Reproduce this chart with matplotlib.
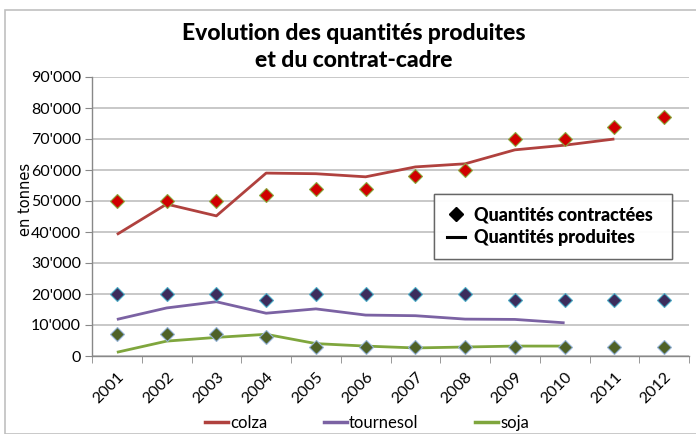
import matplotlib
matplotlib.use("Agg")
import matplotlib.pyplot as plt
from matplotlib.lines import Line2D
from matplotlib.ticker import FuncFormatter, MultipleLocator
from matplotlib.patches import Rectangle
import numpy as np

years = ["2001", "2002", "2003", "2004", "2005", "2006", "2007", "2008",
         "2009", "2010", "2011", "2012"]

colza_contract = [50000, 50000, 50000, 52000, 54000, 54000, 58000, 60000,
                  70000, 70000, 74000, 77000]
colza_prod = [39200, 49000, 45200, 59000, 58800, 57800, 61000, 62000,
              66500, 68000, 70000, None]

tourn_contract = [20000, 20000, 20000, 18000, 20000, 20000, 20000, 20000,
                  18000, 18000, 18000, 18000]
tourn_prod = [11800, 15500, 17500, 13800, 15200, 13200, 13000, 11900,
              11800, 10700, None, None]

soja_contract = [7000, 7000, 7000, 6000, 3000, 3000, 3000, 3000,
                 3000, 3000, 3000, 3000]
soja_prod = [1200, 4800, 6000, 7000, 4000, 3200, 2600, 2900,
             3200, 3200, None, None]

series_names = ["colza", "tournesol", "soja"]

plt.rcParams['font.family'] = ['Lato', 'DejaVu Sans']

fig = plt.figure(figsize=(6.96, 4.34), dpi=100)
# outer frame
fig.patches.append(Rectangle((5 / 696, 0), 1.2, 1 - 10 / 434, transform=fig.transFigure,
                             fill=False, edgecolor='#c0c0c0', linewidth=1.2))

ax = fig.add_axes([92 / 696, 1 - 356 / 434, (689 - 92) / 696, (356 - 77) / 434])

x = np.arange(len(years))

def arr(v):
    return np.array([np.nan if a is None else a for a in v], dtype=float)

line_colors = ["#b0413e", "#7b62a3", "#7fa63d"]
prods = [colza_prod, tourn_prod, soja_prod]
contracts = [colza_contract, tourn_contract, soja_contract]
mfaces = ["#d00000", "#3c2c5c", "#4f6228"]
medges = ["#8aa83c", "#4bacc6", "#95b3d7"]

for p, c in zip(prods, line_colors):
    ax.plot(x, arr(p), color=c, lw=2.0, zorder=3, solid_capstyle='butt')
for ct, fc, ec in zip(contracts, mfaces, medges):
    ax.plot(x, ct, linestyle='none', marker='D', markersize=7.5,
            markerfacecolor=fc, markeredgecolor=ec, markeredgewidth=0.8, zorder=4)

ax.set_xlim(-0.5, len(years) - 0.5)
ax.set_ylim(0, 90000)
ax.yaxis.set_major_locator(MultipleLocator(10000))
ax.yaxis.set_major_formatter(FuncFormatter(
    lambda v, p: "0" if v == 0 else f"{int(v):,}".replace(",", "'")))
ax.grid(axis='y', color='#bfbfbf', linewidth=1.2)
ax.set_axisbelow(True)

ax.set_xticks(x)
ax.set_xticklabels(years, rotation=45, ha='right', rotation_mode='anchor')
ax.set_xticks(np.arange(-0.5, len(years)), minor=True)
ax.tick_params(axis='x', which='major', length=0, pad=10, labelsize=11.5)
ax.tick_params(axis='x', which='minor', length=5, color='#888888', direction='out')
ax.tick_params(axis='y', length=5, color='#888888', labelsize=11.5, pad=3)

for s in ['top', 'right']:
    ax.spines[s].set_visible(False)
for s in ['left', 'bottom']:
    ax.spines[s].set_color('#888888')
    ax.spines[s].set_linewidth(1.0)

ax.set_ylabel("en tonnes", family='DejaVu Sans', fontsize=10.5, labelpad=4)
ax.yaxis.set_label_coords(-0.098, 0.56)

fig.text(354 / 696, 1 - 33 / 434, "Evolution des quantités produites", ha='center',
         va='center', fontsize=16.5, fontweight='black')
fig.text(354 / 696, 1 - 60 / 434, "et du contrat-cadre", ha='center',
         va='center', fontsize=16.5, fontweight='black')

# inner legend
inner_handles = [
    Line2D([], [], linestyle='none', marker='D', color='black', markersize=7.5),
    Line2D([], [], color='black', lw=2.2),
]
lx0 = (434 - 92) / 597
ly1 = 1 - (194 - 77) / 279
lw_ = (672 - 434) / 597
lh_ = (250 - 194) / 279
leg1 = ax.legend(inner_handles, ["Quantités contractées", "Quantités produites"],
                 loc='upper left', bbox_to_anchor=(lx0, ly1 - lh_, lw_, lh_),
                 mode='expand', frameon=True, fancybox=False, edgecolor='#555555',
                 prop={'weight': 'black', 'size': 13}, handlelength=1.0,
                 handletextpad=0.5, borderpad=0.7, labelspacing=0.3, borderaxespad=0)
leg1.get_frame().set_linewidth(1.0)
ax.add_artist(leg1)

# bottom legend
bottom_handles = [Line2D([], [], color=c, lw=2.5) for c in line_colors]
fig.legend(bottom_handles, series_names, loc='center', ncol=3,
           bbox_to_anchor=(367 / 696, 1 - 423 / 434), frameon=False,
           fontsize=12, handlelength=1.4, handletextpad=0.1, columnspacing=3.4)

fig.savefig("out.png", dpi=100)
